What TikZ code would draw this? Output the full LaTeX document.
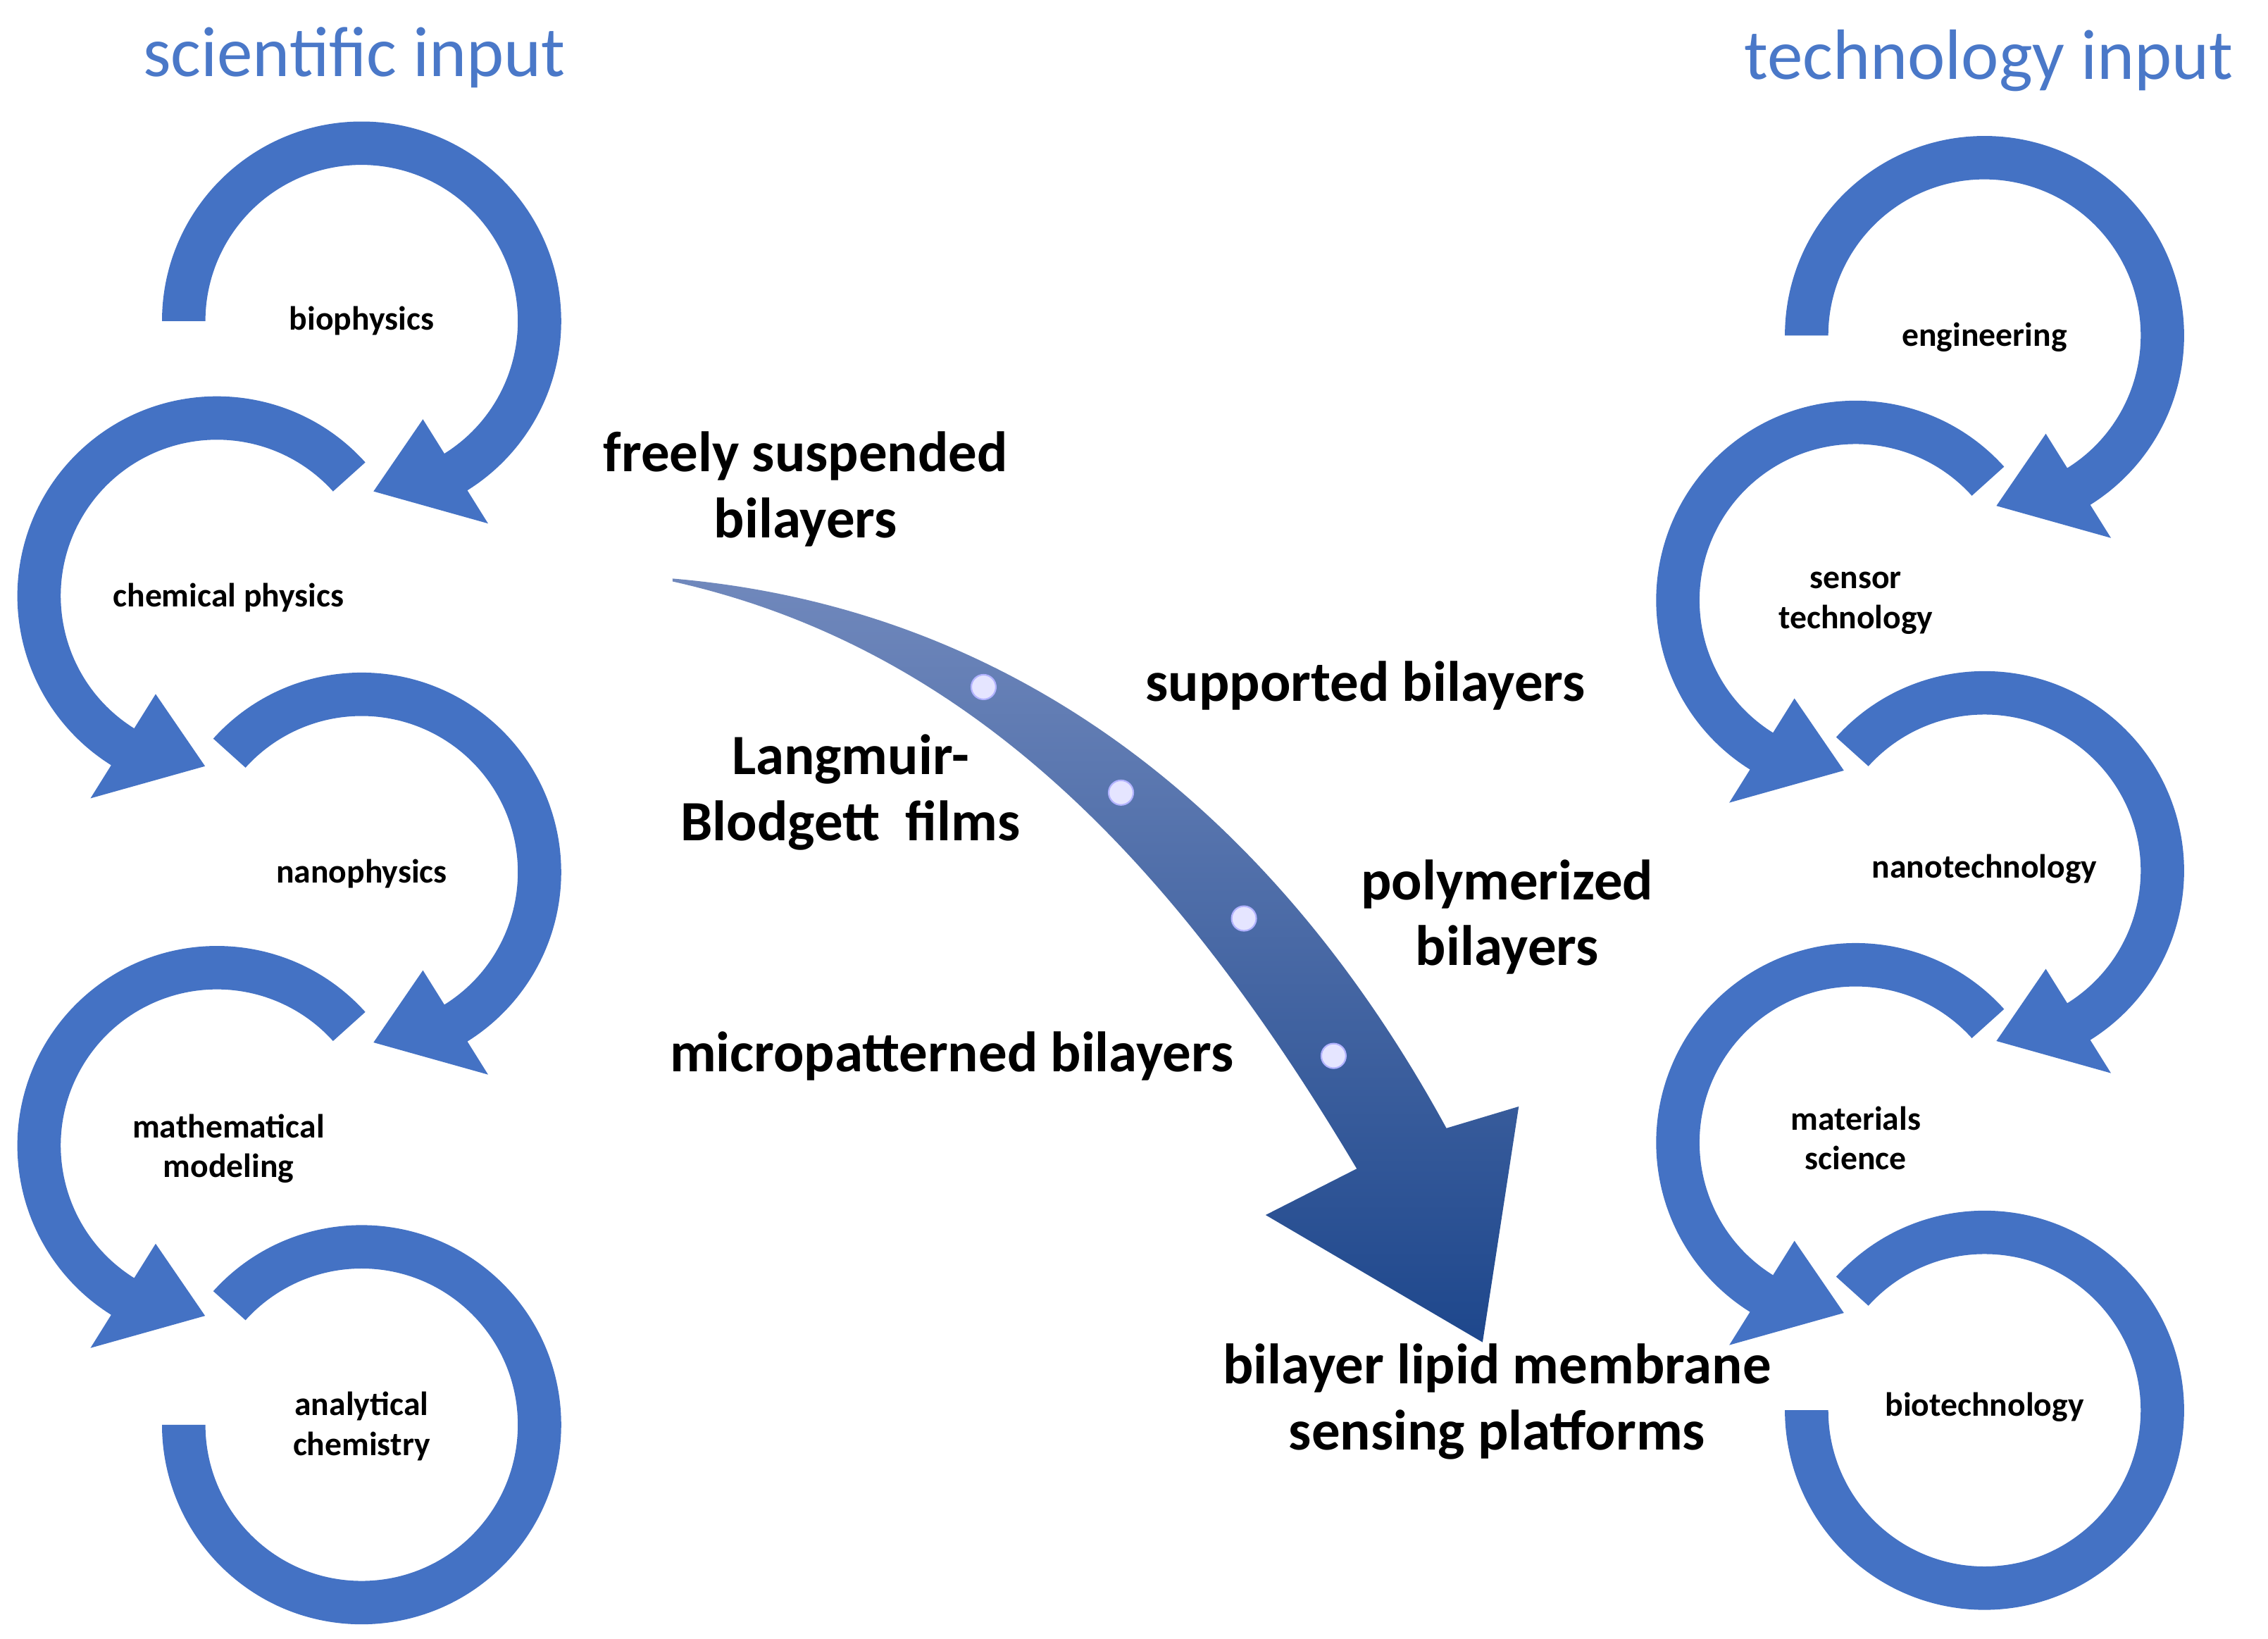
\documentclass[tikz,border=0pt]{standalone}
\usepackage{fontspec}
\setmainfont{Carlito}
\usetikzlibrary{calc}
\definecolor{rb}{HTML}{4472C4}
\definecolor{tb}{HTML}{4A78C8}
\definecolor{at}{HTML}{7088BC}
\definecolor{ab}{HTML}{1E478C}
\tikzset{
 sm/.style={font=\bfseries\fontsize{6.6}{7.8}\selectfont,align=center},
 md/.style={font=\bfseries\fontsize{11.2}{13}\selectfont,align=center},
 ttl/.style={font=\fontsize{14}{16}\selectfont,text=tb},
 dot/.style={circle,minimum size=0.17cm,inner sep=0pt,fill=blue!10!white,draw=blue!30!white,line width=0.3pt}
}
% center x, center y, visual start angle, visual end angle, sign (-1 clockwise)
\newcommand\ringarrow[5]{%
 \begin{scope}[shift={(#1,#2)}]
 \fill[rb] ({-(#3)}:138) arc[start angle={-(#3)},end angle={-(#4)},radius=138]
   -- ({-(#4)}:165) -- ({-(#4)-(#5)*28}:118) -- ({-(#4)}:80) -- ({-(#4)}:108)
   arc[start angle={-(#4)},end angle={-(#3)},radius=108] -- cycle;
 \end{scope}}
\newcommand\ringfull[4]{%
 \begin{scope}[shift={(#1,#2)}]
 \fill[rb] ({-(#3)}:138) arc[start angle={-(#3)},end angle={-(#4)},radius=138]
   -- ({-(#4)}:108) arc[start angle={-(#4)},end angle={-(#3)},radius=108] -- cycle;
 \end{scope}}
\begin{document}
\begin{tikzpicture}[x=0.01cm,y=-0.01cm]
\useasboundingbox (0,0) rectangle (1568,1133);
% left rings
\ringarrow{250}{222}{180}{-58}{-1}
\ringarrow{150}{412}{42}{238}{1}
\ringarrow{250}{603}{138}{-58}{-1}
\ringarrow{150}{792}{42}{238}{1}
\ringfull{250}{985}{138}{-180}
% right rings
\ringarrow{1372}{232}{180}{-58}{-1}
\ringarrow{1283}{415}{42}{238}{1}
\ringarrow{1372}{602}{138}{-58}{-1}
\ringarrow{1283}{790}{42}{238}{1}
\ringfull{1372}{975}{138}{-180}
% labels
\node[sm] (n1) at (250,222) {biophysics};
\node[sm] (n2) at (158,413) {chemical physics};
\node[sm] (n3) at (250,604) {nanophysics};
\node[sm] (n4) at (158,794) {mathematical\\modeling};
\node[sm] (n5) at (250,986) {analytical\\chemistry};
\node[sm] (m1) at (1372,233) {engineering};
\node[sm] (m2) at (1283,417) {sensor\\technology};
\node[sm] (m3) at (1372,601) {nanotechnology};
\node[sm] (m4) at (1283,787) {materials\\science};
\node[sm] (m5) at (1372,973) {biotechnology};
\node[ttl] (t1) at (245,40) {scientific input};
\node[ttl] (t2) at (1375,42) {technology input};
% big arrow
\shade[top color=at,bottom color=ab]
 (465,400) .. controls (700,420) and (880,560) .. (1000,780)
 -- (1050,765) -- (1025,928) -- (875,840) -- (938,808)
 .. controls (820,610) and (680,450) .. (465,402) -- cycle;
\node[dot] (d1) at (680,475) {};
\node[dot] (d2) at (775,548) {};
\node[dot] (d3) at (860,635) {};
\node[dot] (d4) at (922,730) {};
\node[md] (f) at (557,338) {freely suspended\\bilayers};
\node[md] (s) at (944,474) {supported bilayers};
\node[md] (lb) at (588,548) {Langmuir-\\Blodgett\ \ films};
\node[md] (p) at (1042,634) {polymerized\\bilayers};
\node[md] (mp) at (658,730) {micropatterned bilayers};
\node[md] (b) at (1035,969) {bilayer lipid membrane\\sensing platforms};
\end{tikzpicture}
\end{document}
